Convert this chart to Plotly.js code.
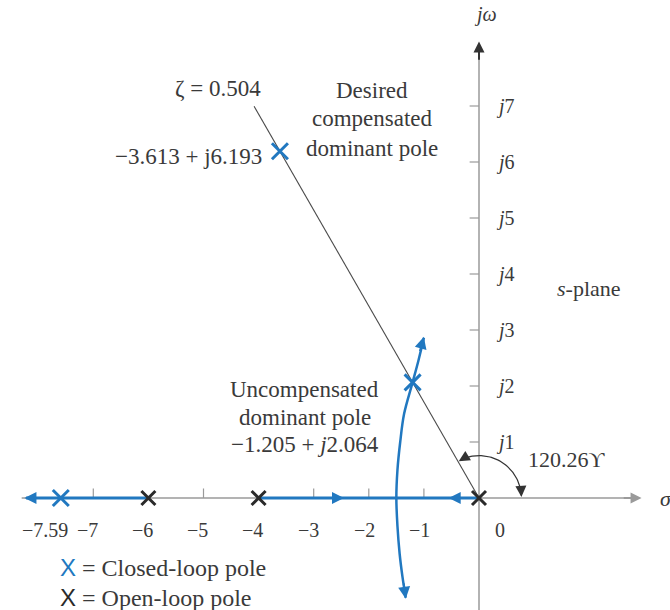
<!DOCTYPE html>
<html>
<head>
<meta charset="utf-8">
<script src="https://cdn.plot.ly/plotly-3.0.1.min.js"></script>
<style>html,body{margin:0;padding:0;background:#fff;}</style>
</head>
<body>
<div id="plot" style="width:670px;height:610px;"></div>
<script>
// Root locus of K/(s(s+4)(s+6)) with the zeta line for the design
const openLoopPoles = [0, -4, -6];
const closedLoopRe = [-7.59, -3.613, -1.205];
const closedLoopIm = [0, 6.193, 2.064];
const zeta = 0.504;
const zetaAngleDeg = 120.26;

// complex branch leaving the breakaway point
const branchRe = [-1.33, -1.39, -1.44, -1.48, -1.50, -1.48, -1.43, -1.36, -1.205, -1.10, -1.0];
const branchIm = [-1.78, -1.4, -1.0, -0.5, 0, 0.5, 1.0, 1.5, 2.064, 2.45, 2.86];

// real-axis locus segments
const realSegA = [-8.22, -6];
const realSegB = [-4, 0];

const realTicks = [-7, -5, -3, -2, -1];
const realTickLabels = ["\u22127.59", "\u22127", "\u22126", "\u22125", "\u22124", "\u22123", "\u22122", "\u22121", "0"];
const realTickLabelPos = [-7.42, -6.88, -5.88, -4.88, -3.88, -2.86, -1.86, -0.86, 0.5];
const imagTicks = [1, 2, 3, 4, 5, 6, 7];

const BLUE = "#2178c0";
const INK = "#3a3a3a";
const AXIS = "#9a9a9a";
const SERIF = "Liberation Serif, Times New Roman, serif";

const traces = [];
// plane axes
traces.push({x: [-8.3, 2.85], y: [0, 0], mode: "lines", line: {color: AXIS, width: 1.5}, hoverinfo: "skip"});
traces.push({x: [0, 0], y: [-2.1, 8.0], mode: "lines", line: {color: AXIS, width: 1.5}, hoverinfo: "skip"});
// tick marks
realTicks.forEach(t => traces.push({x: [t, t], y: [0, 0.17], mode: "lines", line: {color: AXIS, width: 1.2}, hoverinfo: "skip"}));
imagTicks.forEach(t => traces.push({x: [-0.17, 0], y: [t, t], mode: "lines", line: {color: AXIS, width: 1.2}, hoverinfo: "skip"}));

// zeta line through the origin
const rEnd = 8.1;
const th = zetaAngleDeg * Math.PI / 180;
traces.push({x: [0, rEnd * Math.cos(th)], y: [0, rEnd * Math.sin(th)], mode: "lines", line: {color: "#4a4a4a", width: 1.1}, hoverinfo: "skip"});

// angle arc between the real axis and the zeta line
const arcX = [], arcY = [];
const rArc = 0.77;
for (let a = 3; a <= zetaAngleDeg - 4; a += 2) {
  arcX.push(rArc * Math.cos(a * Math.PI / 180));
  arcY.push(rArc * 0.985 * Math.sin(a * Math.PI / 180));
}
traces.push({x: arcX, y: arcY, mode: "lines", line: {color: "#333", width: 1.2}, hoverinfo: "skip"});

// root locus
traces.push({x: realSegA, y: [0, 0], mode: "lines", line: {color: BLUE, width: 3}, hoverinfo: "skip"});
traces.push({x: realSegB, y: [0, 0], mode: "lines", line: {color: BLUE, width: 3}, hoverinfo: "skip"});
traces.push({x: branchRe, y: branchIm, mode: "lines", line: {color: BLUE, width: 2.5, shape: "spline"}, hoverinfo: "skip"});

// poles
traces.push({x: openLoopPoles, y: openLoopPoles.map(() => 0), mode: "markers",
  marker: {symbol: "x-thin", size: 14, line: {color: "#2a2a2a", width: 3}}, hoverinfo: "skip"});
traces.push({x: closedLoopRe, y: closedLoopIm, mode: "markers",
  marker: {symbol: "x-thin", size: 16, line: {color: BLUE, width: 3}}, hoverinfo: "skip"});

function txt(x, y, text, size, opts) {
  return Object.assign({x: x, y: y, xref: "x", yref: "y", text: text, showarrow: false,
    font: {family: SERIF, size: size, color: INK}, xanchor: "center", yanchor: "middle"}, opts || {});
}
function arrow(x, y, ax, ay, color, size) {
  return {x: x, y: y, ax: ax, ay: ay, xref: "x", yref: "y", axref: "x", ayref: "y", text: "",
    showarrow: true, arrowhead: 2, arrowsize: size || 1.2, arrowwidth: 2, arrowcolor: color};
}

const ann = [];
// tick labels
realTickLabels.forEach((t, i) => ann.push(txt(realTickLabelPos[i], -0.58, t, 20, {xanchor: "right"})));
imagTicks.forEach(t => ann.push(txt(0.28, t, "<i>j</i>" + t, 20, {xanchor: "left"})));
ann.push(txt(0.12, 8.64, "<i>j\u03c9</i>", 20));
ann.push(txt(3.24, 0, "<i>\u03c3</i>", 22, {xanchor: "left"}));
ann.push(txt(2.0, 3.74, "<i>s</i>-plane", 22));

// annotations on the plane
ann.push(txt(-4.74, 7.32, "\u03b6 = " + zeta.toFixed(3), 23));
ann.push(txt(-1.94, 7.27, "Desired", 23));
ann.push(txt(-1.94, 6.77, "compensated", 23));
ann.push(txt(-1.94, 6.25, "dominant pole", 23));
ann.push(txt(-3.90, 6.1, "\u22123.613 + j6.193", 23, {xanchor: "right"}));
ann.push(txt(-3.16, 1.93, "Uncompensated", 23));
ann.push(txt(-3.16, 1.44, "dominant pole", 23));
ann.push(txt(-3.16, 0.95, "\u22121.205 + <i>j</i>2.064", 23));
ann.push(txt(0.86, 0.68, "120.26\u03d2", 22, {xanchor: "left"}));

// legend
ann.push(txt(-7.64, -1.24, "<span style='color:" + BLUE + ";font-family:Liberation Sans'>X</span> = Closed-loop pole", 24, {xanchor: "left"}));
ann.push(txt(-7.64, -1.78, "<span style='color:#2a2a2a;font-family:Liberation Sans'>X</span> = Open-loop pole", 24, {xanchor: "left"}));

// arrowheads
ann.push(arrow(2.95, 0, 2.6, 0, AXIS, 1.1));
ann.push(arrow(0, 8.15, 0, 7.8, "#333", 1.1));
ann.push(arrow(-8.25, 0, -7.9, 0, BLUE));
ann.push(arrow(-2.45, 0, -2.8, 0, BLUE));
ann.push(arrow(-0.55, 0, -0.2, 0, BLUE));
ann.push(arrow(-1.0, 2.88, -1.08, 2.6, BLUE));
ann.push(arrow(-1.33, -1.8, -1.37, -1.5, BLUE));
ann.push(arrow(rArc, 0.02, rArc - 0.005, 0.12, "#333", 1.1));
ann.push(arrow(rArc * Math.cos(th) + 0.02, rArc * Math.sin(th) * 0.985, rArc * Math.cos(th - 0.15), rArc * Math.sin(th - 0.15) * 0.985, "#333", 1.1));

const layout = {
  width: 670, height: 610,
  margin: {l: 0, r: 0, t: 0, b: 0},
  paper_bgcolor: "#ffffff", plot_bgcolor: "#ffffff",
  showlegend: false,
  xaxis: {range: [-479 / 55.1, 191 / 55.1], visible: false, fixedrange: true},
  yaxis: {range: [-112 / 56, 498 / 56], visible: false, fixedrange: true},
  annotations: ann
};
Plotly.newPlot("plot", traces, layout, {staticPlot: true});
</script>
</body>
</html>
